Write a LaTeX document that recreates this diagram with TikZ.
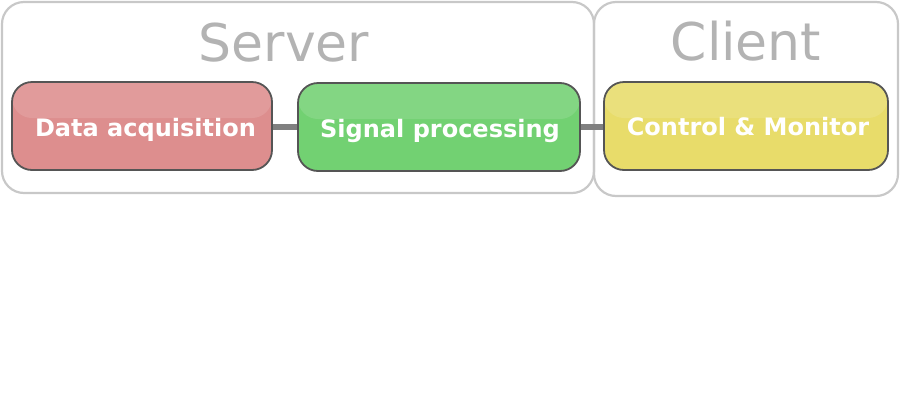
\documentclass[tikz,border=0pt]{standalone}
\usepackage{fontspec}
\setmainfont{DejaVu Sans}
\definecolor{grpline}{HTML}{C8C8C8}
\definecolor{grptext}{HTML}{B3B3B3}
\definecolor{boxline}{HTML}{555555}
\definecolor{redfill}{HTML}{DD8E8E}
\definecolor{greenfill}{HTML}{72D172}
\definecolor{yellowfill}{HTML}{E8DC6A}
\definecolor{linkcol}{HTML}{808080}
\tikzset{
  grp/.style={draw=grpline, line width=2.2pt, rounded corners=22pt},
  grplabel/.style={text=grptext, font=\fontsize{52}{60}\selectfont, anchor=base, inner sep=0pt},
  stepbox/.style={draw=boxline, line width=1.8pt, rounded corners=20pt, inner sep=0pt,
    path picture={
      \fill[white,opacity=0.12] (path picture bounding box.north west) rectangle ([yshift=8pt]path picture bounding box.east);
    }},
  steptext/.style={text=white, font=\bfseries\fontsize{24}{28}\selectfont, anchor=base, inner sep=0pt},
  link/.style={draw=linkcol, line width=6pt}
}
\begin{document}
\begin{tikzpicture}[x=1pt,y=-1pt]
\useasboundingbox (0,0) rectangle (900,405);
% groups
\draw[grp] (2,2) rectangle (594,193);
\draw[grp] (594,2) rectangle (898,196);
\node[grplabel] (serverlbl) at (284,61) {Server};
\node[grplabel] (clientlbl) at (746,60) {Client};
% nodes
\node[stepbox, fill=redfill, minimum width=260pt, minimum height=88pt] (da) at (142,126) {};
\node[stepbox, fill=greenfill, minimum width=282pt, minimum height=88pt] (sp) at (439,127) {};
\node[stepbox, fill=yellowfill, minimum width=284pt, minimum height=88pt] (cm) at (746,126) {};
\draw[link] (da.east |- sp.west) -- (sp.west);
\draw[link] (sp.east) -- (cm.west |- sp.east);
% texts
\node[steptext] (datxt) at (145.5,136) {Data acquisition};
\node[steptext] (sptxt) at (440,137) {Signal processing};
\node[steptext] (cmtxt) at (748,135) {Control \& Monitor};
\end{tikzpicture}
\end{document}
